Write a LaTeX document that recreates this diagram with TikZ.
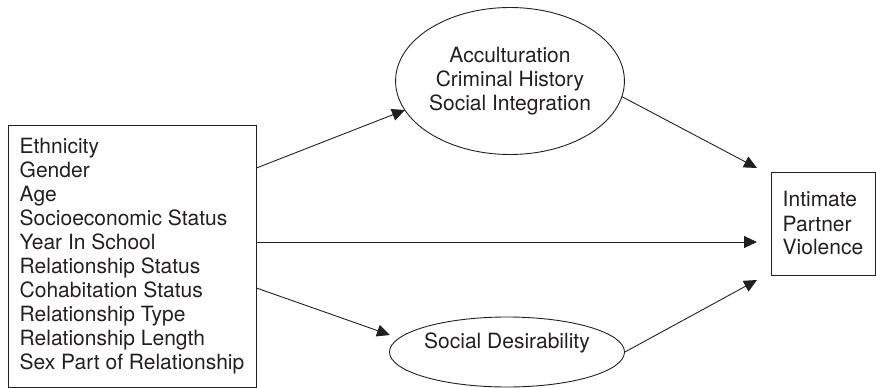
\documentclass[tikz,border=0pt]{standalone}
\usepackage{fontspec}
\setmainfont{TeX Gyre Heros}
\usetikzlibrary{arrows.meta,shapes.geometric}
\definecolor{ink}{HTML}{231F20}
\tikzset{
  every node/.style={font=\fontsize{21}{24}\selectfont, text=ink},
  boxnode/.style={draw=ink, line width=0.9pt, rectangle, inner sep=0pt},
  ellnode/.style={draw=ink, line width=0.9pt, ellipse, inner sep=0pt},
  conn/.style={draw=ink, line width=0.9pt, -{Triangle[length=13pt,width=12pt]}},
}
\begin{document}
\begin{tikzpicture}[x=1pt,y=-1pt]
\useasboundingbox (0,0) rectangle (876,388);
% left box
\node[boxnode, minimum width=248pt, minimum height=262pt, align=left] (L) at (132,256)
 {Ethnicity\\Gender\\Age\\Socioeconomic Status\\Year In School\\Relationship Status\\Cohabitation Status\\Relationship Type\\Relationship Length\\Sex Part of Relationship};
% top ellipse
\node[ellnode, minimum width=205pt, minimum height=147pt, align=center] (E1) at (510,81)
 {Acculturation\\Criminal History\\Social Integration};
% bottom ellipse
\node[ellnode, minimum width=235pt, minimum height=70pt] (E2) at (507,352) {};
\node (E2t) at (507,343) {Social Desirability};
% right box
\node[boxnode, minimum width=104pt, minimum height=103pt, align=left] (R) at (823,223.5)
 {Intimate\\Partner\\Violence};
% arrow tips
\coordinate (t1) at (405,110);
\coordinate (t2) at (757,168);
\coordinate (t3) at (757,242);
\coordinate (t4) at (390,335);
\coordinate (t5) at (757,280);
\draw[conn] (L.east |- 0,168) -- (t1);
\draw[conn] (E1.-8) -- (t2);
\draw[conn] (L.east |- 0,242) -- (t3);
\draw[conn] (L.east |- 0,288) -- (t4);
\draw[conn] (E2.east) -- (t5);
\end{tikzpicture}
\end{document}
